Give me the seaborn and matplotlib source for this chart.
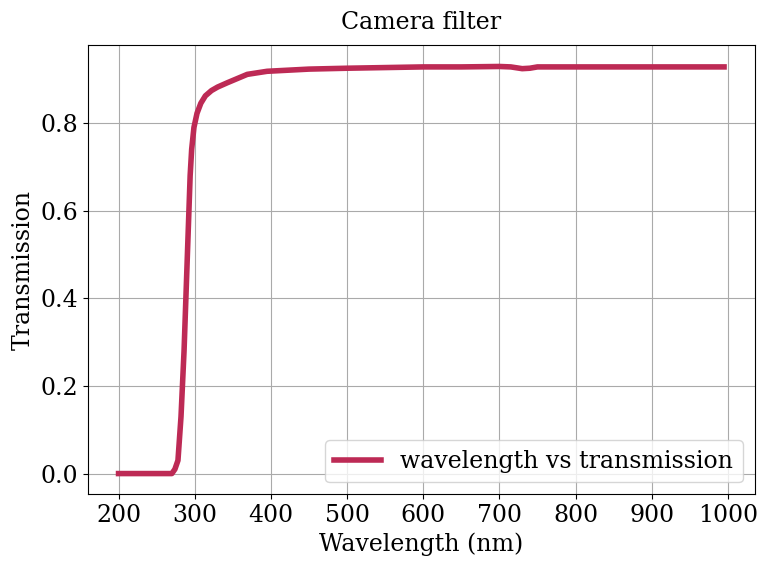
import matplotlib
matplotlib.use("Agg")
import matplotlib.pyplot as plt
import seaborn as sns
import pandas as pd

wavelength = [200, 230, 260, 270, 274, 278, 282, 286, 289, 292, 294, 296, 299, 303, 308, 314, 322, 330, 343, 369, 395,
              450, 500, 600, 650, 700, 715, 730, 740, 750, 800, 900, 995]
transmission = [0.0, 0.0, 0.0, 0.0, 0.01, 0.03, 0.13, 0.28, 0.43, 0.58, 0.68, 0.74, 0.79, 0.822, 0.845, 0.862, 0.874,
                0.882, 0.892, 0.911, 0.918, 0.923, 0.925, 0.928, 0.928, 0.929, 0.928, 0.924, 0.925, 0.928, 0.928, 0.928, 0.928]

df = pd.DataFrame({"Wavelength (nm)": wavelength, "Transmission": transmission})

plt.rcParams["font.family"] = "DejaVu Serif"
plt.rcParams["font.size"] = 17
fig, ax = plt.subplots(figsize=(7.66, 5.68), dpi=100)
sns.lineplot(data=df, x="Wavelength (nm)", y="Transmission", ax=ax, color="#bd2a55",
             linewidth=4, label="wavelength vs transmission")
ax.set_xticks(range(200, 1001, 100))
ax.set_xlim(160, 1035)
ax.set_ylim(-0.047, 0.977)
ax.grid(True, color="#aaaaaa")
ax.set_title("Camera filter", fontsize=17, pad=12)
ax.legend(loc="lower right")
fig.subplots_adjust(left=0.115, right=0.985, top=0.92, bottom=0.13)
fig.savefig("out.png")
